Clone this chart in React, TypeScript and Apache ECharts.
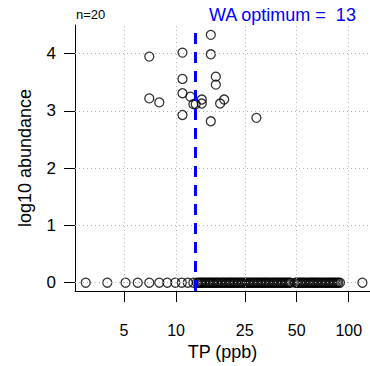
import React, { useEffect, useRef } from "react";
import * as echarts from "echarts";

// Tick labels
const xTicks = [5, 10, 25, 50, 100];
const yTicks = [0, 1, 2, 3, 4];

// Sites where the taxon is present: TP (ppb) and log10 abundance
const presentTP = [15.9, 7.0, 10.9, 15.9, 10.9, 17.0, 17.0, 10.9, 12.1, 7.0, 8.0, 14.1, 19.0, 13.0, 14.1, 18.0, 10.9, 15.9, 29.2, 12.6];
const presentAbund = [4.33, 3.95, 4.02, 3.99, 3.56, 3.6, 3.46, 3.31, 3.25, 3.22, 3.15, 3.2, 3.2, 3.12, 3.13, 3.13, 2.93, 2.82, 2.88, 3.12];

// Sites where the taxon is absent (log10 abundance = 0)
const absentTP = [
  3.0, 4.0, 5.1, 6.0, 7.0, 8.0, 8.9, 9.9, 10.8, 11.7, 12.6,
  13.2, 13.5, 13.7, 14.0, 14.2, 14.5, 14.8, 15.1, 15.4, 15.7, 16.0, 16.3, 16.6, 17.0, 17.3,
  17.6, 18.0, 18.4, 18.7, 19.1, 19.5, 19.9, 20.3, 20.6, 21.0, 21.5, 21.9, 22.3, 22.8, 23.2,
  23.7, 24.1, 24.6, 25.1, 25.6, 26.1, 26.6, 27.1, 27.7, 28.2, 28.8, 29.4, 30.0, 30.6, 31.2,
  31.8, 32.4, 33.0, 33.7, 34.3, 35.0, 35.8, 36.5, 37.2, 38.0, 38.7, 39.5, 40.2, 41.0, 41.8,
  42.7, 43.5, 44.4, 45.2, 46.0,
  49.0, 50.0, 51.0, 52.0, 53.0, 54.0, 55.0, 56.2, 57.5, 58.7, 60.0, 61.0, 62.0, 63.2, 64.5,
  65.7, 67.0, 68.5, 70.0, 71.5, 73.0, 74.5, 76.0, 77.5, 79.0, 80.5, 82.0, 83.7, 85.5, 87.2, 89.0,
  120.0,
];

const waOptimum = 13;
const nLabel = "n=20";

const FONT = "Liberation Sans, Arial, Helvetica, sans-serif";

export default function App() {
  const ref = useRef<HTMLDivElement>(null);
  useEffect(() => {
    if (!ref.current) return;
    const chart = echarts.init(ref.current, null, { renderer: "svg" });
    const pts: number[][] = [];
    absentTP.forEach((t) => pts.push([t, 0]));
    presentTP.forEach((t, i) => pts.push([t, presentAbund[i]]));
    const gridStyle = { color: "#b0b0b0", type: [1, 3] as any, width: 1 };
    chart.setOption({
      animation: false,
      grid: { left: 75, top: 25, right: 0, bottom: 72.5 },
      xAxis: {
        type: "log",
        logBase: 10,
        min: 2.6,
        max: 132.8,
        name: "TP (ppb)",
        nameLocation: "middle",
        nameGap: 49,
        nameTextStyle: { fontFamily: FONT, fontSize: 18, color: "#000" },
        axisLine: { show: true, onZero: false, lineStyle: { color: "#000", width: 1 } },
        axisTick: { show: true, length: 11, customValues: xTicks, lineStyle: { color: "#000" } },
        axisLabel: { customValues: xTicks, margin: 31, fontFamily: FONT, fontSize: 16, color: "#000", formatter: (v: number) => String(v) },
        splitLine: { show: false },
        minorTick: { show: false },
        minorSplitLine: { show: false },
      },
      yAxis: {
        type: "value",
        min: -0.147,
        max: 4.502,
        name: "log10 abundance",
        nameLocation: "middle",
        nameGap: 41,
        nameTextStyle: { fontFamily: FONT, fontSize: 18, color: "#000" },
        axisLine: { show: true, onZero: false, lineStyle: { color: "#000", width: 1 } },
        axisTick: { show: true, length: 11, customValues: yTicks, lineStyle: { color: "#000" } },
        axisLabel: { customValues: yTicks, margin: 19, fontFamily: FONT, fontSize: 17, color: "#000" },
        splitLine: { show: false },
      },
      series: [
        {
          type: "scatter",
          data: [],
          z: 1,
          silent: true,
          markLine: {
            silent: true,
            symbol: "none",
            label: { show: false },
            lineStyle: gridStyle,
            data: [
              ...xTicks.map((v) => ({ xAxis: v })),
              ...yTicks.map((v) => ({ yAxis: v })),
            ],
          },
        },
        {
          type: "scatter",
          data: pts,
          z: 2,
          symbol: "circle",
          symbolSize: 9,
          itemStyle: { color: "rgba(0,0,0,0)", borderColor: "#000", borderWidth: 1.3 },
          silent: true,
          markLine: {
            silent: true,
            symbol: "none",
            label: { show: false },
            lineStyle: { color: "#0000ff", width: 3, type: [11, 8] as any },
            data: [{ xAxis: waOptimum }],
          },
        },
      ],
      graphic: [
        { type: "text", left: 76, top: 8, style: { text: nLabel, font: `13px ${FONT}`, fill: "#000" } },
        { type: "text", x: 209, y: 15, style: { text: `WA optimum =  ${waOptimum}`, font: `18px ${FONT}`, fill: "#0000ff", verticalAlign: "middle" } },
      ],
    });
    return () => chart.dispose();
  }, []);
  return <div ref={ref} style={{ position: "absolute", left: 0, top: 0, width: 370, height: 366 }} />;
}
